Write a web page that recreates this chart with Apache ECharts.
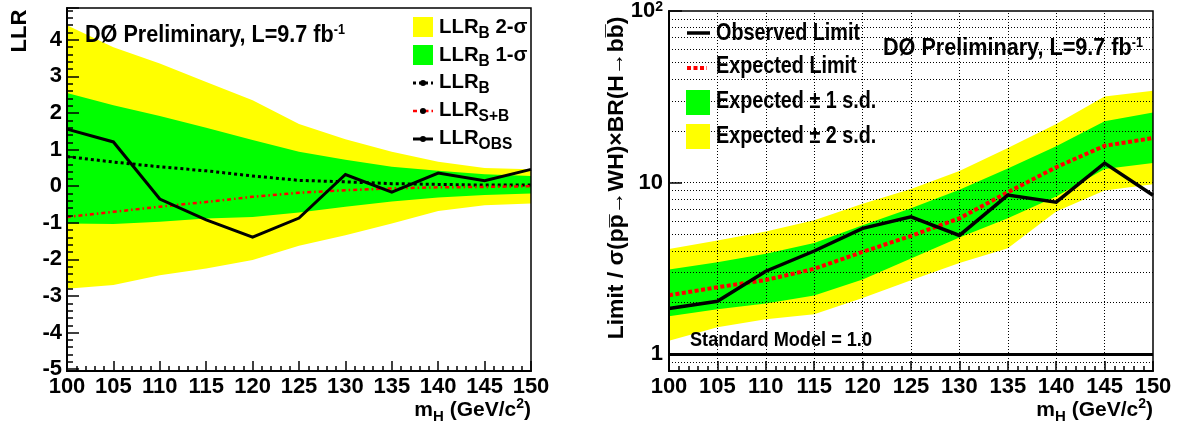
<!DOCTYPE html>
<html><head><meta charset="utf-8">
<script src="https://cdn.jsdelivr.net/npm/echarts@6/dist/echarts.min.js"></script>
<style>html,body{margin:0;padding:0;background:#fff}#c{width:1177px;height:427px}</style>
</head><body><div id="c"></div>
<script>
// ---------- data ----------
const mass = [100, 105, 110, 115, 120, 125, 130, 135, 140, 145, 150];
// left panel: log-likelihood ratios
const llrObs = [1.56, 1.21, -0.35, -0.92, -1.39, -0.87, 0.32, -0.16, 0.36, 0.15, 0.46];
const llrB   = [0.81, 0.66, 0.53, 0.42, 0.28, 0.16, 0.12, 0.07, 0.05, 0.03, 0.03];
const llrSB  = [-0.84, -0.70, -0.56, -0.43, -0.29, -0.18, -0.11, -0.06, -0.03, -0.02, 0.0];
const llrB1Up = [2.55, 2.21, 1.92, 1.60, 1.26, 0.94, 0.72, 0.53, 0.42, 0.33, 0.28];
const llrB1Dn = [-1.02, -1.03, -0.97, -0.88, -0.84, -0.72, -0.56, -0.42, -0.31, -0.24, -0.20];
const llrB2Up = [4.40, 3.80, 3.35, 2.85, 2.35, 1.70, 1.28, 0.94, 0.67, 0.50, 0.46];
const llrB2Dn = [-2.80, -2.70, -2.43, -2.25, -2.02, -1.63, -1.34, -1.02, -0.68, -0.52, -0.47];
// right panel: limits / SM
const obsLimit = [1.85, 2.04, 3.05, 4.00, 5.42, 6.33, 4.93, 8.47, 7.70, 13.0, 8.45];
const expLimit = [2.21, 2.46, 2.71, 3.15, 3.95, 4.90, 6.20, 8.80, 12.3, 16.4, 18.2];
const exp1Up = [3.12, 3.44, 3.85, 4.45, 5.65, 7.10, 9.10, 12.1, 16.3, 22.8, 25.6];
const exp1Dn = [1.67, 1.83, 1.98, 2.20, 2.73, 3.62, 4.80, 6.20, 8.30, 12.0, 13.0];
const exp2Up = [4.11, 4.60, 5.20, 6.05, 7.55, 9.20, 11.7, 15.9, 22.0, 31.8, 34.3];
const exp2Dn = [1.20, 1.44, 1.60, 1.71, 2.13, 2.70, 3.40, 4.15, 6.80, 9.00, 9.80];
const smLevel = 1.0;
// grid / tick levels
const gridX = [105, 110, 115, 120, 125, 130, 135, 140, 145];
const gridY = [0.9, 2, 3, 4, 5, 6, 7, 8, 9, 10, 20, 30, 40, 50, 60, 70, 80, 90];

// ---------- helpers ----------
const FF = "'Liberation Sans', Arial, Helvetica, sans-serif";
const NF = "'Liberation Sans Narrow', 'Liberation Sans', Arial, sans-serif";
const pts = a => mass.map((m, i) => [m, a[i]]);

function area(i, a, color) {
  return { type: 'line', xAxisIndex: i, yAxisIndex: i, data: pts(a), symbol: 'none', silent: true,
    lineStyle: { width: 0, opacity: 0 }, areaStyle: { color: color, opacity: 1, origin: 'start' }, z: 2 };
}
function curve(i, a, color, width, type, extra) {
  return Object.assign({ type: 'line', xAxisIndex: i, yAxisIndex: i, data: pts(a), symbol: 'none', silent: true,
    lineStyle: { color: color, width: width, type: type, cap: 'butt', join: 'miter' }, z: 4 }, extra || {});
}
function xAx(i) {
  return { gridIndex: i, type: 'value', min: 100, max: 150, interval: 5, z: 10,
    axisLine: { onZero: false, lineStyle: { color: '#000', width: 2 } },
    axisTick: { inside: true, length: 10, lineStyle: { color: '#000', width: 1.5 } },
    minorTick: { show: true, splitNumber: 5, length: 5, lineStyle: { color: '#000', width: 1.5 } },
    axisLabel: { color: '#000', fontFamily: NF, fontWeight: 'bold', fontSize: 22, margin: 5 },
    splitLine: { show: false } };
}
function richText(x, y, text, rich, opt) {
  opt = opt || {};
  return { type: 'text', x: x, y: y, rotation: opt.rotation || 0, scaleX: opt.scaleX || 1, silent: true, z: 20,
    style: { text: text, rich: rich, fill: '#000', fontFamily: FF, fontWeight: 'bold', fontSize: opt.fontSize || 21,
      align: opt.align || 'left', verticalAlign: opt.valign || 'middle',
      textAlign: opt.align || 'left', textVerticalAlign: opt.valign || 'middle' } };
}
function subRich(F, S, pm, ps) {
  return {
    m: { fontFamily: FF, fontWeight: 'bold', fontSize: F, lineHeight: F, padding: [pm, 0, 0, 0], verticalAlign: 'top', color: '#000' },
    b: { fontFamily: FF, fontWeight: 'bold', fontSize: S, lineHeight: S, padding: [ps, 0, 0, 0], verticalAlign: 'top', color: '#000' },
    u: { fontFamily: FF, fontWeight: 'bold', fontSize: S - 1, lineHeight: S - 1, padding: [0, 0, 0, 0], verticalAlign: 'top', color: '#000' }
  };
}
const titleRich = {
  n: { fontFamily: FF, fontWeight: 'bold', fontSize: 24, lineHeight: 24, verticalAlign: 'bottom', color: '#000' },
  s: { fontFamily: FF, fontWeight: 'bold', fontSize: 14, lineHeight: 14, verticalAlign: 'top', color: '#000' }
};
const legRich = subRich(21, 16, 0, 9);
const mhRich = subRich(21, 15, 3, 12);

const gridLineStyle = { color: '#000', width: 1, type: [1, 2] };
const markData = []
  .concat(gridY.map(v => ({ yAxis: v, lineStyle: gridLineStyle })))
  .concat(gridX.map(v => ({ xAxis: v, lineStyle: gridLineStyle })))
  .concat([{ yAxis: smLevel, lineStyle: { color: '#000', width: 3, type: 'solid' } }]);

const option = {
  animation: false,
  backgroundColor: '#fff',
  grid: [
    { left: 67, top: 8, width: 464, height: 363, show: true, borderColor: '#000', borderWidth: 1.5, backgroundColor: 'transparent', z: 10 },
    { left: 669, top: 8, width: 484, height: 363, show: true, borderColor: '#000', borderWidth: 1.5, backgroundColor: 'transparent', z: 10 }
  ],
  xAxis: [xAx(0), xAx(1)],
  yAxis: [
    { gridIndex: 0, type: 'value', min: -5.05, max: 4.87, splitNumber: 10, z: 10,
      axisLine: { onZero: false, lineStyle: { color: '#000', width: 2 } },
      axisTick: { inside: true, length: 12, lineStyle: { color: '#000', width: 1.5 } },
      minorTick: { show: true, splitNumber: 5, length: 6, lineStyle: { color: '#000', width: 1.5 } },
      axisLabel: { color: '#000', fontFamily: NF, fontWeight: 'bold', fontSize: 22, margin: 5,
        formatter: v => Math.abs(v - Math.round(v)) < 1e-6 ? String(Math.round(v)) : '' },
      splitLine: { show: false } },
    { gridIndex: 1, type: 'log', logBase: 10, min: 0.8, max: 100, splitNumber: 2, z: 10,
      axisLine: { onZero: false, lineStyle: { color: '#000', width: 2 } },
      axisTick: { inside: true, length: 13, lineStyle: { color: '#000', width: 1.5 } },
      axisLabel: { color: '#000', fontFamily: NF, fontWeight: 'bold', fontSize: 22, margin: 6,
        formatter: v => { const e = Math.log10(v); if (Math.abs(e - Math.round(e)) > 1e-6) return '';
          const r = Math.round(e); return r === 2 ? '{n|10}{s|2}' : r === 1 ? '{n|10}' : r === 0 ? '{n|1}' : ''; },
        rich: {
          n: { fontFamily: NF, fontWeight: 'bold', fontSize: 22, lineHeight: 22, verticalAlign: 'bottom', color: '#000' },
          s: { fontFamily: NF, fontWeight: 'bold', fontSize: 14, lineHeight: 14, verticalAlign: 'top', color: '#000' } } },
      splitLine: { show: false } }
  ],
  series: [
    // left panel
    area(0, llrB2Up, '#ffff00'),
    area(0, llrB1Up, '#00ff00'),
    area(0, llrB1Dn, '#ffff00'),
    area(0, llrB2Dn, '#ffffff'),
    curve(0, llrB, '#000', 3, [3, 3]),
    curve(0, llrSB, '#ff0000', 2.5, [4, 3, 1.5, 3]),
    curve(0, llrObs, '#000', 3, 'solid'),
    // right panel
    area(1, exp2Up, '#ffff00'),
    area(1, exp1Up, '#00ff00'),
    area(1, exp1Dn, '#ffff00'),
    area(1, exp2Dn, '#ffffff'),
    curve(1, expLimit, '#ff0000', 4, [4, 2.5], {
      markLine: { silent: true, z: 3, symbol: ['none', 'none'], label: { show: false }, animation: false, data: markData } }),
    curve(1, obsLimit, '#000', 3.5, 'solid', { z: 5 })
  ],
  graphic: { elements: [
    // left panel texts
    richText(20, 31, 'LLR', null, { rotation: Math.PI / 2, align: 'center', fontSize: 22 }),
    richText(85, 35, '{n|DØ Preliminary, L=9.7 fb}{s|-1}', titleRich, { scaleX: 0.9 }),
    { type: 'rect', x: 413, y: 17, shape: { width: 20, height: 20 }, style: { fill: '#ffff00' }, silent: true, z: 20 },
    { type: 'rect', x: 413, y: 45, shape: { width: 20, height: 20 }, style: { fill: '#00ff00' }, silent: true, z: 20 },
    { type: 'line', shape: { x1: 413, y1: 83, x2: 433, y2: 83 }, style: { stroke: '#000', lineWidth: 3, lineDash: [3, 3] }, silent: true, z: 20 },
    { type: 'circle', shape: { cx: 423, cy: 83, r: 3 }, style: { fill: '#000' }, silent: true, z: 21 },
    { type: 'line', shape: { x1: 413, y1: 111, x2: 433, y2: 111 }, style: { stroke: '#ff0000', lineWidth: 2.5, lineDash: [4, 3, 1.5, 3] }, silent: true, z: 20 },
    { type: 'circle', shape: { cx: 423, cy: 111, r: 3 }, style: { fill: '#000' }, silent: true, z: 21 },
    { type: 'line', shape: { x1: 413, y1: 139, x2: 433, y2: 139 }, style: { stroke: '#000', lineWidth: 3 }, silent: true, z: 20 },
    { type: 'circle', shape: { cx: 423, cy: 139, r: 3 }, style: { fill: '#000' }, silent: true, z: 21 },
    richText(439, 17, '{m|LLR}{b|B}{m| 2-σ}', legRich, { valign: 'top', scaleX: 0.97 }),
    richText(439, 45, '{m|LLR}{b|B}{m| 1-σ}', legRich, { valign: 'top', scaleX: 0.97 }),
    richText(439, 72, '{m|LLR}{b|B}', legRich, { valign: 'top', scaleX: 0.97 }),
    richText(439, 100, '{m|LLR}{b|S+B}', legRich, { valign: 'top', scaleX: 0.97 }),
    richText(439, 128, '{m|LLR}{b|OBS}', legRich, { valign: 'top', scaleX: 0.97 }),
    richText(531, 397, '{m|m}{b|H}{m| (GeV/c}{u|2}{m|)}', mhRich, { align: 'right', valign: 'top' }),
    // right panel texts
    richText(617, 178, 'Limit / σ(pp\u0305\u2192WH)\u00d7BR(H\u2192bb\u0305)', null, { rotation: Math.PI / 2, align: 'center', fontSize: 22, scaleX: 1.04 }),
    richText(883, 48, '{n|DØ Preliminary, L=9.7 fb}{s|-1}', titleRich, { scaleX: 0.9 }),
    { type: 'line', shape: { x1: 687, y1: 33, x2: 710, y2: 33 }, style: { stroke: '#000', lineWidth: 3.5 }, silent: true, z: 20 },
    { type: 'line', shape: { x1: 687, y1: 68, x2: 707, y2: 68 }, style: { stroke: '#ff0000', lineWidth: 4, lineDash: [4, 2.5] }, silent: true, z: 20 },
    { type: 'rect', x: 686, y: 90, shape: { width: 24, height: 25 }, style: { fill: '#00ff00' }, silent: true, z: 20 },
    { type: 'rect', x: 686, y: 124, shape: { width: 24, height: 25 }, style: { fill: '#ffff00' }, silent: true, z: 20 },
    richText(716, 34, 'Observed Limit', null, { fontSize: 23, scaleX: 0.86 }),
    richText(716, 67, 'Expected Limit', null, { fontSize: 23, scaleX: 0.86 }),
    richText(716, 102, 'Expected ± 1 s.d.', null, { fontSize: 23, scaleX: 0.86 }),
    richText(716, 137, 'Expected ± 2 s.d.', null, { fontSize: 23, scaleX: 0.86 }),
    richText(690, 340, 'Standard Model = 1.0', null, { fontSize: 21, scaleX: 0.864 }),
    richText(1153, 397, '{m|m}{b|H}{m| (GeV/c}{u|2}{m|)}', mhRich, { align: 'right', valign: 'top' })
  ] }
};
const chart = echarts.init(document.getElementById('c'), null, { renderer: 'canvas' });
chart.setOption(option);
</script>
</body></html>
